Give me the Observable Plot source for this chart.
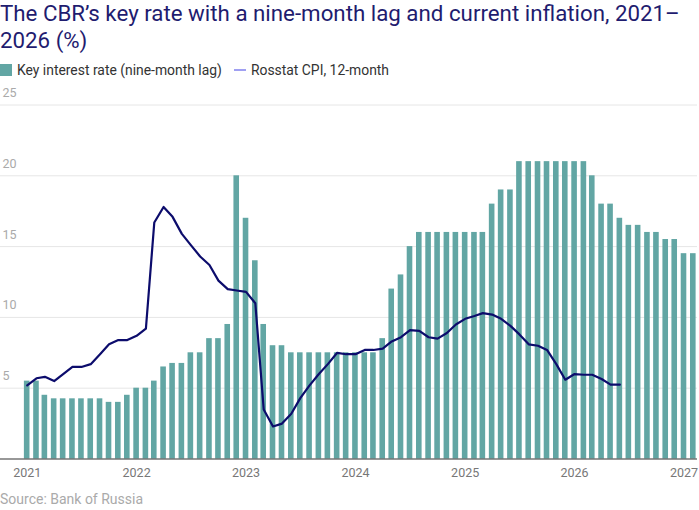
<!DOCTYPE html>
<html><head><meta charset="utf-8">
<script src="https://cdn.jsdelivr.net/npm/d3@7"></script>
<script src="https://cdn.jsdelivr.net/npm/@observablehq/plot@0.6"></script>
<style>
body{margin:0;background:#fff;font-family:Roboto,"Noto Sans",sans-serif;}
#wrap{position:relative;width:699px;height:510px;overflow:hidden;}
#title{position:absolute;left:0;top:0;margin:0;font-size:22.3px;font-weight:400;line-height:27px;color:#1f1c6f;white-space:nowrap;}
#legend{position:absolute;left:0;top:62px;height:16px;font-size:13.9px;line-height:16px;color:#333;display:flex;align-items:center;white-space:nowrap;}
.sq{display:inline-block;width:12px;height:12px;background:#62a6a4;margin-right:5px;}
.ln{display:inline-block;width:12px;height:2px;background:#a0a0f2;margin-left:12px;margin-right:5px;}
#chart{position:absolute;left:0;top:80px;}
#source{position:absolute;left:0;top:491px;font-size:14px;line-height:16px;color:#aaa;}
</style></head>
<body><div id="wrap">
<h1 id="title">The CBR’s key rate with a nine-month lag and current inflation, 2021–<br>2026 (%)</h1>
<div id="legend"><span class="sq"></span>Key interest rate (nine-month lag)<span class="ln"></span>Rosstat CPI, 12-month</div>
<div id="chart"></div>
<div id="source">Source: Bank of Russia</div>
</div>
<script>
// Key rate (nine-month lag), monthly bars from Jan 2021
const keyRate = [
  5.5, 5.5, 4.5, 4.25, 4.25, 4.25, 4.25, 4.25, 4.25, 4.0, 4.0, 4.5,
  5.0, 5.0, 5.5, 6.5, 6.75, 6.75, 7.5, 7.5, 8.5, 8.5, 9.5, 20,
  17, 14, 9.5, 8, 8, 7.5, 7.5, 7.5, 7.5, 7.5, 7.5, 7.5,
  7.5, 7.5, 7.5, 8.5, 12, 13, 15, 16, 16, 16, 16, 16,
  16, 16, 16, 18, 19, 19, 21, 21, 21, 21, 21, 21,
  21, 21, 20, 18, 18, 17, 16.5, 16.5, 16, 16, 15.5, 15.5,
  14.5, 14.5
];
// Rosstat CPI, 12-month (%), monthly from Jan 2021
const cpi = [
  5.2, 5.7, 5.8, 5.5, 6.0, 6.5, 6.5, 6.7, 7.4, 8.1, 8.4, 8.4,
  8.7, 9.2, 16.7, 17.8, 17.1, 15.9, 15.1, 14.3, 13.7, 12.6, 12.0, 11.9,
  11.8, 11.0, 3.5, 2.3, 2.5, 3.2, 4.3, 5.2, 6.0, 6.7, 7.5, 7.4,
  7.4, 7.7, 7.7, 7.8, 8.3, 8.6, 9.1, 9.05, 8.6, 8.5, 8.9, 9.5,
  9.9, 10.1, 10.3, 10.2, 9.9, 9.4, 8.8, 8.1, 8.0, 7.7, 6.7, 5.6,
  6.0, 5.95, 5.95, 5.65, 5.25, 5.25
];
const yearTicks = [2021, 2022, 2023, 2024, 2025, 2026, 2027];
const yTicks = [5, 10, 15, 20, 25];

const months = d3.utcMonth.range(new Date(Date.UTC(2021, 0, 1)), new Date(Date.UTC(2027, 2, 1)));
const bars = keyRate.map((v, i) => ({date: months[i], value: v}));
const line = cpi.map((v, i) => ({date: months[i], value: v}));

const chart = Plot.plot({
  width: 699, height: 400,
  marginLeft: 0, marginRight: 2, marginTop: 24.5, marginBottom: 21.5,
  x: {type: "utc", domain: [new Date(Date.UTC(2020, 9, 4)), new Date(Date.UTC(2027, 1, 15))], label: null},
  y: {domain: [0, 25], label: null},
  style: {fontFamily: "Roboto, sans-serif", background: "#fff", overflow: "visible"},
  marks: [
    Plot.gridY(yTicks, {stroke: "#e6e6e6", strokeOpacity: 1}),
    Plot.rectY(bars, {
      x1: d => d3.utcDay.offset(d.date, -15),
      x2: d => d3.utcDay.offset(d.date, 15),
      y: "value", fill: "#62a6a4", insetLeft: 1.7, insetRight: 1.7
    }),
    Plot.ruleY([0], {stroke: "#333", strokeWidth: 1.2}),
    Plot.lineY(line, {x: "date", y: "value", stroke: "#0c0c6c", strokeWidth: 2.2}),
    Plot.axisX(yearTicks.map(y => new Date(Date.UTC(y, 0, 1))), {
      tickSize: 0, tickPadding: 9, tickFormat: d3.utcFormat("%Y"), fill: "#777", fontSize: 12.5, label: null
    }),
    Plot.axisY(yTicks, {
      tickSize: 0, tickPadding: 0, textAnchor: "start", dx: 2, dy: -12, fill: "#aaa", fontSize: 12.5, label: null
    })
  ]
});
document.getElementById("chart").appendChild(chart);
</script>
</body></html>
